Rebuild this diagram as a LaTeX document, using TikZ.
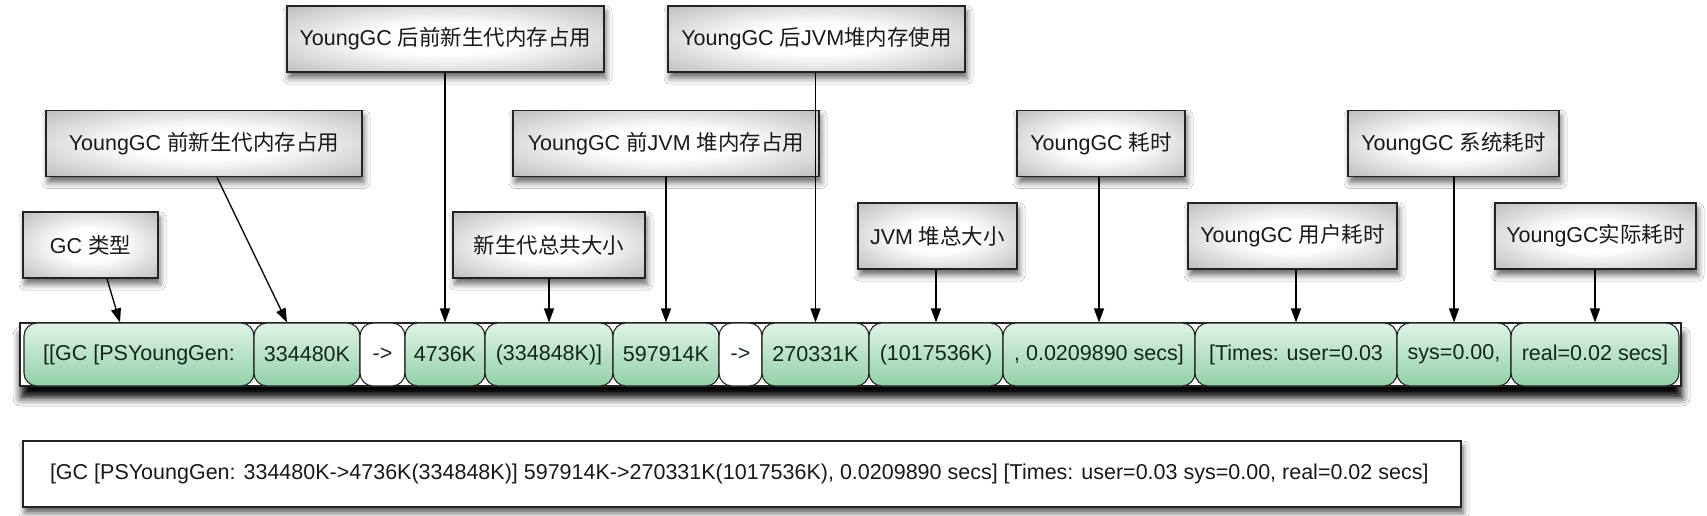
\documentclass[tikz,border=0pt]{standalone}
\usepackage{fontspec}
\setmainfont{Liberation Sans}
\newfontfamily\cjk{Noto Sans CJK SC}
\usetikzlibrary{arrows.meta,shadows.blur}
\definecolor{gtop}{RGB}{224,244,230}
\definecolor{gbot}{RGB}{146,208,168}
\definecolor{edge}{RGB}{35,35,35}
\definecolor{txt}{RGB}{25,25,25}
\definecolor{celltxt}{RGB}{20,40,25}
\pgfdeclareradialshading{graybox}{\pgfpoint{0bp}{0bp}}{color(0bp)=(white); color(12bp)=(white); color(36bp)=(white!74!black); color(50bp)=(white!56!black); color(72bp)=(white!48!black)}
\newcommand\zh[1]{{\cjk #1}}
\newcommand\fsz{\fontsize{21.5}{25}\selectfont}
\newcommand\fsb{\fontsize{21.5}{25}\selectfont}
\begin{document}
\begin{tikzpicture}[x=1pt,y=-1pt,
  lbl/.style={draw=edge, line width=1.8pt, shading=graybox, inner sep=0pt, minimum height=66pt, font=\fsz, text=txt,
    blur shadow={shadow xshift=2pt, shadow yshift=-6pt, shadow blur radius=6pt, shadow opacity=60}},
  cell/.style={draw=edge, line width=1.1pt, rounded corners=13pt, top color=gtop, bottom color=gbot, inner sep=0pt, minimum height=63pt, font=\fsz, text=celltxt},
  arrcell/.style={cell, top color=white, bottom color=white},
  arr/.style={draw=black, line width=1.3pt, -{Triangle[length=14pt,width=10pt]}}]
\useasboundingbox[fill=white] (0,0) rectangle (1707,516);

% label boxes
\node[lbl, minimum width=317pt] (hq) at (445.5,39) {YoungGC \zh{后前新生代内存占用}};
\node[lbl, minimum width=297pt] (hj) at (816.5,39) {YoungGC \zh{后}JVM\zh{堆内存使用}};
\node[lbl, minimum width=316pt] (qx) at (204,143.5) {YoungGC \zh{前新生代内存占用}};
\node[lbl, minimum width=306pt] (qj) at (666,143.5) {YoungGC \zh{前}JVM \zh{堆内存占用}};
\node[lbl, minimum width=168pt] (hs) at (1101,143.5) {YoungGC \zh{耗时}};
\node[lbl, minimum width=211pt] (xt) at (1453.5,143.5) {YoungGC \zh{系统耗时}};
\node[lbl, minimum width=135pt] (gc) at (90.5,245) {GC \zh{类型}};
\node[lbl, minimum width=192pt] (xz) at (549,245) {\zh{新生代总共大小}};
\node[lbl, minimum width=159pt] (jz) at (937.5,236) {JVM \zh{堆总大小}};
\node[lbl, minimum width=209pt] (yh) at (1292.5,236) {YoungGC \zh{用户耗时}};
\node[lbl, minimum width=201pt] (sj) at (1595.5,236) {YoungGC\zh{实际耗时}};

% bar
\node[draw=edge, line width=1.5pt, fill=white, minimum width=1661pt, minimum height=63pt, inner sep=0pt,
  blur shadow={shadow xshift=1pt, shadow yshift=-12pt, shadow blur radius=8pt, shadow opacity=100}] (bar) at (850.5,354.5) {};
\node[cell, minimum width=230pt] (c1) at (139,354.5) {[[GC [PSYoungGen:};
\node[cell, minimum width=106pt] (c2) at (307,354.5) {334480K};
\node[arrcell, minimum width=45pt] (a1) at (382.5,354.5) {->};
\node[cell, minimum width=80pt] (c3) at (445,354.5) {4736K};
\node[cell, minimum width=128pt] (c4) at (549,354.5) {(334848K)]};
\node[cell, minimum width=106pt] (c5) at (666,354.5) {597914K};
\node[arrcell, minimum width=43pt] (a2) at (740.5,354.5) {->};
\node[cell, minimum width=107pt] (c6) at (815.5,354.5) {270331K};
\node[cell, minimum width=134pt] (c7) at (936,354.5) {(1017536K)};
\node[cell, minimum width=192pt] (c8) at (1099,354.5) {, 0.0209890 secs]};
\node[cell, minimum width=202pt] (c9) at (1296,354.5) {[Times: user=0.03};
\node[cell, minimum width=114pt] (c10) at (1454,354.5) {sys=0.00,};
\node[cell, minimum width=168pt] (c11) at (1595,354.5) {real=0.02 secs]};

% connectors
\draw[arr] (gc.south -| 107,0) -- (c1.north -| 120,0);
\draw[arr] (qx.south -| 217,0) -- (c2.north -| 287,0);
\draw[arr] (hq.south -| c3.north) -- (c3.north);
\draw[arr] (xz.south -| c4.north) -- (c4.north);
\draw[arr] (qj.south -| c5.north) -- (c5.north);
\draw[arr] (hj.south -| c6.north) -- (c6.north);
\draw[arr] (jz.south -| c7.north) -- (c7.north);
\draw[arr] (hs.south -| c8.north) -- (c8.north);
\draw[arr] (yh.south -| c9.north) -- (c9.north);
\draw[arr] (xt.south -| c10.north) -- (c10.north);
\draw[arr] (sj.south -| c11.north) -- (c11.north);

% bottom log line
\node[draw=edge, line width=1.8pt, fill=white, minimum height=66pt, inner xsep=27pt, inner ysep=0pt, font=\fsb, text=txt,
  blur shadow={shadow xshift=2pt, shadow yshift=-6pt, shadow blur radius=6pt, shadow opacity=65}] (log) at (742,474)
  {\makebox[1384pt][l]{[GC [PSYoungGen: 334480K->4736K(334848K)] 597914K->270331K(1017536K), 0.0209890 secs] [Times: user=0.03 sys=0.00, real=0.02 secs]}};
\end{tikzpicture}
\end{document}
